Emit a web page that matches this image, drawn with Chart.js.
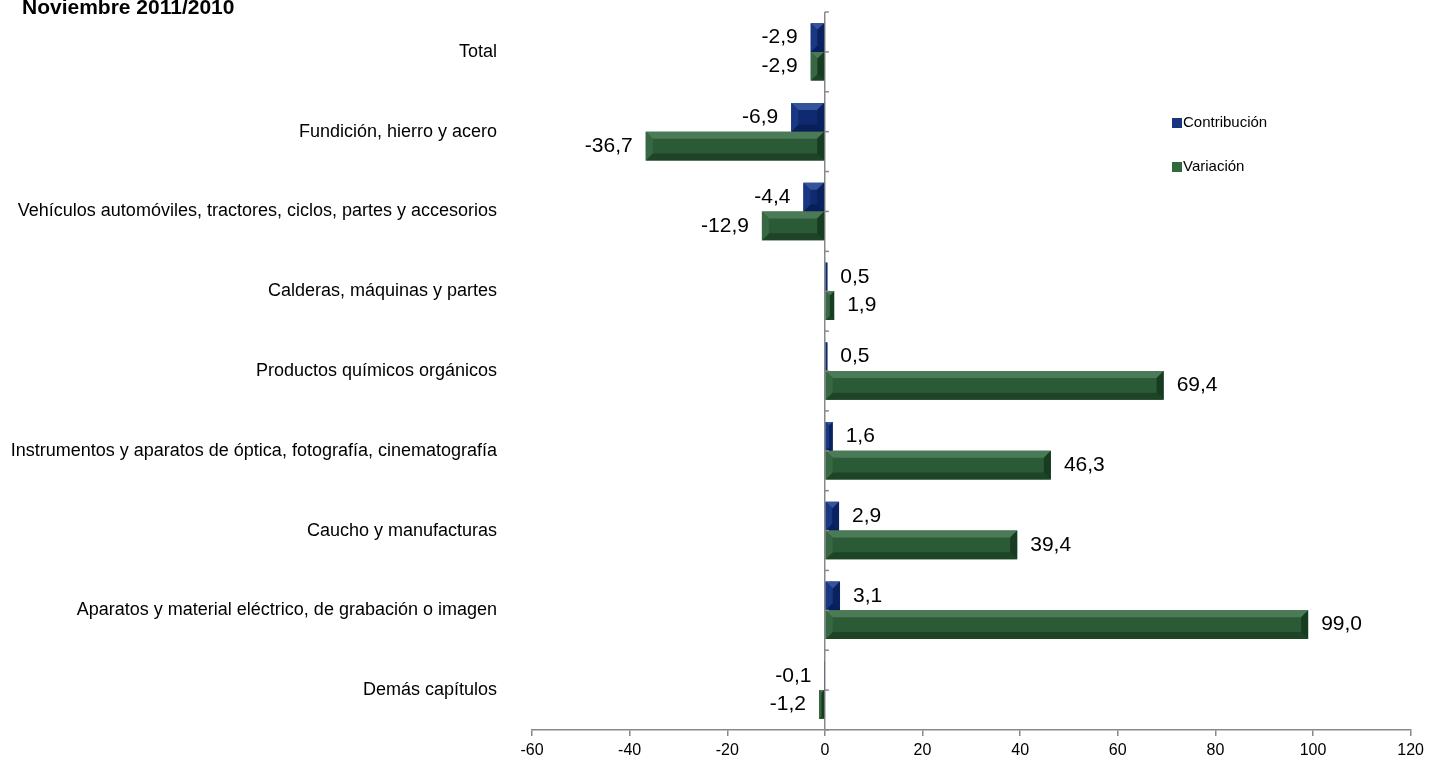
<!DOCTYPE html>
<html>
<head>
<meta charset="utf-8">
<script src="https://cdn.jsdelivr.net/npm/chart.js@4.4.0/dist/chart.umd.min.js"></script>
<style>
  html, body { margin: 0; padding: 0; background: #fff; }
  body { width: 1429px; height: 760px; overflow: hidden; position: relative; font-family: "Liberation Sans", Arial, sans-serif; }
  #wrap { position: absolute; left: 0; top: 0; width: 1429px; height: 760px; }
  .title { position: absolute; left: 22px; top: -5px; font-size: 21px; font-weight: bold; color: #000; white-space: nowrap; }
  .leg { position: absolute; left: 1172px; font-size: 15px; color: #000; white-space: nowrap; line-height: 18px; }
  .leg i { display: inline-block; width: 10px; height: 10px; margin-right: 1px; vertical-align: -1px; }
</style>
</head>
<body>
<div id="wrap"><canvas id="chart"></canvas></div>
<div class="title">Noviembre 2011/2010</div>
<div class="leg" style="top:113px"><i style="background:#1a3580"></i>Contribución</div>
<div class="leg" style="top:157px"><i style="background:#2f6a3e"></i>Variación</div>
<script>
// categories, top to bottom
const categories = [
    "Total",
    "Fundición, hierro y acero",
    "Vehículos automóviles, tractores, ciclos, partes y accesorios",
    "Calderas, máquinas y partes",
    "Productos químicos orgánicos",
    "Instrumentos y aparatos de óptica, fotografía, cinematografía",
    "Caucho y manufacturas",
    "Aparatos y material eléctrico, de grabación o imagen",
    "Demás capítulos"
];
const contribucion = [-2.9, -6.9, -4.4, 0.5, 0.5, 1.6, 2.9, 3.1, -0.1];
const variacion = [-2.9, -36.7, -12.9, 1.9, 69.4, 46.3, 39.4, 99.0, -1.2];
const xTicks = [-60, -40, -20, 0, 20, 40, 60, 80, 100, 120];

const bevelColors = [
    { top: '#34539a', bottom: '#091f58', left: '#1a3783', right: '#0a2260' },
    { top: '#4a7b56', bottom: '#1d4427', left: '#386843', right: '#173c21' }
];

const fmt = v => v.toFixed(1).replace('.', ',');

function bevel(ctx, x0, x1, y0, y1, c) {
    const w = x1 - x0, h = y1 - y0;
    const b = Math.min(7, w / 2, h / 2);
    if (w < 1) return;
    const poly = (pts, col) => {
        ctx.beginPath();
        ctx.moveTo(pts[0][0], pts[0][1]);
        for (let i = 1; i < pts.length; i++) ctx.lineTo(pts[i][0], pts[i][1]);
        ctx.closePath();
        ctx.fillStyle = col;
        ctx.fill();
    };
    poly([[x0, y0], [x1, y0], [x1 - b, y0 + b], [x0 + b, y0 + b]], c.top);
    poly([[x0, y1], [x1, y1], [x1 - b, y1 - b], [x0 + b, y1 - b]], c.bottom);
    poly([[x0, y0], [x0 + b, y0 + b], [x0 + b, y1 - b], [x0, y1]], c.left);
    poly([[x1, y0], [x1 - b, y0 + b], [x1 - b, y1 - b], [x1, y1]], c.right);
}

const barDecor = {
    id: 'barDecor',
    afterDatasetsDraw(chart) {
        const ctx = chart.ctx;
        ctx.save();
        chart.data.datasets.forEach((ds, di) => {
            const meta = chart.getDatasetMeta(di);
            meta.data.forEach((el, i) => {
                const x0 = Math.min(el.x, el.base), x1 = Math.max(el.x, el.base);
                const y0 = el.y - el.height / 2, y1 = el.y + el.height / 2;
                bevel(ctx, x0, x1, y0, y1, bevelColors[di]);
            });
        });
        // value labels
        ctx.font = '21px "Liberation Sans", Arial, sans-serif';
        ctx.fillStyle = '#000';
        ctx.textBaseline = 'middle';
        chart.data.datasets.forEach((ds, di) => {
            const meta = chart.getDatasetMeta(di);
            meta.data.forEach((el, i) => {
                const v = ds.data[i];
                if (v < 0) { ctx.textAlign = 'right'; ctx.fillText(fmt(v), el.x - 13, el.y); }
                else { ctx.textAlign = 'left'; ctx.fillText(fmt(v), el.x + 13, el.y); }
            });
        });
        // small ticks on the vertical zero axis
        const xs = chart.scales.x, ys = chart.scales.y;
        const x0 = xs.getPixelForValue(0);
        const step = (ys.bottom - ys.top) / (categories.length * 2);
        ctx.strokeStyle = '#888';
        ctx.lineWidth = 1.5;
        for (let k = 0; k <= categories.length * 2; k++) {
            const y = ys.top + k * step;
            ctx.beginPath();
            ctx.moveTo(x0, y);
            ctx.lineTo(x0 + 4, y);
            ctx.stroke();
        }
        ctx.restore();
    }
};

new Chart(document.getElementById('chart'), {
    type: 'bar',
    data: {
        labels: categories,
        datasets: [
            { label: 'Contribución', data: contribucion, backgroundColor: '#0f2a6e', borderWidth: 0 },
            { label: 'Variación', data: variacion, backgroundColor: '#2b5a36', borderWidth: 0 }
        ]
    },
    options: {
        indexAxis: 'y',
        responsive: true,
        maintainAspectRatio: false,
        animation: false,
        layout: { padding: { top: 12, right: 16, left: 0, bottom: 0 } },
        datasets: { bar: { categoryPercentage: 0.72, barPercentage: 1 } },
        plugins: { legend: { display: false }, tooltip: { enabled: false } },
        scales: {
            x: {
                type: 'linear',
                min: -60,
                max: 120,
                afterBuildTicks: s => { s.ticks = xTicks.map(v => ({ value: v })); },
                afterFit: s => { s.height = 30; },
                grid: {
                    color: c => (c.tick && c.tick.value === 0) ? '#888' : 'rgba(0,0,0,0)',
                    lineWidth: 1.5,
                    tickColor: '#888',
                    tickLength: 6
                },
                border: { color: '#888', width: 1.5 },
                ticks: {
                    color: '#000',
                    padding: 5,
                    font: { family: '"Liberation Sans", Arial, sans-serif', size: 16 }
                }
            },
            y: {
                afterFit: s => { s.width = 532; s.paddingTop = 0; s.paddingBottom = 0; },
                grid: { display: false, drawTicks: false },
                border: { display: false },
                ticks: {
                    color: '#000',
                    padding: 35,
                    autoSkip: false,
                    font: { family: '"Liberation Sans", Arial, sans-serif', size: 18 }
                }
            }
        }
    },
    plugins: [barDecor]
});
</script>
</body>
</html>
